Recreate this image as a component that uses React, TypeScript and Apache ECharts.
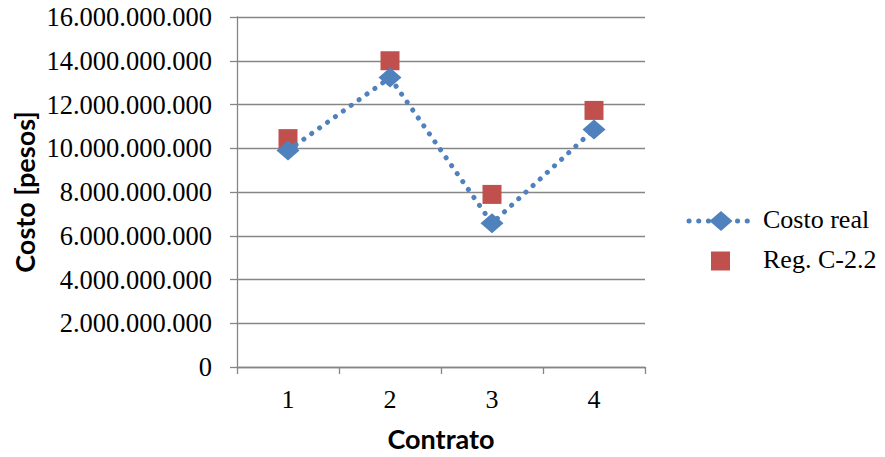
import React, { useEffect, useRef } from "react";
import * as echarts from "echarts";

const contratos = ["1", "2", "3", "4"];
const costoReal = [9.9e9, 13.23e9, 6.57e9, 10.86e9];
const regC22 = [10.44e9, 14.0e9, 7.89e9, 11.73e9];
const seriesNames = ["Costo real", "Reg. C-2.2"];
const yMax = 16e9;
const yStep = 2e9;

const axisGray = "#868686";
const blue = "#4F81BD";
const red = "#C0504D";
const serif = "'Liberation Serif', 'Times New Roman', serif";
const sans = "Lato, 'Open Sans', sans-serif";

const dotLine = { width: 5, type: [0.1, 9.6], cap: "round" as const };

const fmtPesos = (v: number) =>
  Math.round(v)
    .toString()
    .replace(/\B(?=(\d{3})+(?!\d))/g, ".");

export default function App() {
  const ref = useRef<HTMLDivElement>(null);

  useEffect(() => {
    if (!ref.current) return;
    const chart = echarts.init(ref.current, undefined, { renderer: "svg" });

    // legend on the right: dotted line with diamond, then red square
    const lx = 687;
    const row1 = 221;
    const row2 = 261;
    const legendText = (y: number, text: string) => ({
      type: "text",
      left: 763,
      top: y - 15,
      style: { text, fontFamily: serif, fontSize: 26, fill: "#000" },
    });

    chart.setOption({
      animation: false,
      backgroundColor: "#ffffff",
      grid: { left: 237, right: 240, top: 17, bottom: 90 },
      graphic: [
        {
          type: "line",
          shape: { x1: lx + 2, y1: row1, x2: lx + 66, y2: row1 },
          style: { stroke: blue, lineWidth: dotLine.width, lineDash: dotLine.type, lineCap: "round" },
        },
        {
          type: "polygon",
          shape: {
            points: [
              [lx + 34, row1 - 10],
              [lx + 45.5, row1],
              [lx + 34, row1 + 10],
              [lx + 22.5, row1],
            ],
          },
          style: { fill: blue },
        },
        legendText(row1, seriesNames[0]),
        {
          type: "rect",
          shape: { x: lx + 24, y: row2 - 9.5, width: 19, height: 19 },
          style: { fill: red },
        },
        legendText(row2, seriesNames[1]),
      ],
      xAxis: {
        type: "category",
        data: contratos,
        name: "Contrato",
        nameLocation: "middle",
        nameGap: 58,
        nameTextStyle: { fontFamily: sans, fontWeight: "bold", fontSize: 27, color: "#000" },
        axisLine: { lineStyle: { color: axisGray, width: 1.3 } },
        axisTick: { show: true, length: 7, lineStyle: { color: axisGray, width: 1.3 } },
        axisLabel: { fontFamily: serif, fontSize: 26, color: "#000", margin: 19 },
      },
      yAxis: {
        type: "value",
        min: 0,
        max: yMax,
        interval: yStep,
        name: "Costo [pesos]",
        nameLocation: "middle",
        nameGap: 199,
        nameTextStyle: { fontFamily: sans, fontWeight: "bold", fontSize: 27, color: "#000" },
        axisLine: { show: true, lineStyle: { color: axisGray, width: 1.3 } },
        axisTick: { show: true, length: 7, lineStyle: { color: axisGray, width: 1.3 } },
        splitLine: { lineStyle: { color: axisGray, width: 1.3 } },
        axisLabel: {
          fontFamily: serif,
          fontSize: 26.5,
          color: "#000",
          margin: 25,
          formatter: fmtPesos,
        },
      },
      series: [
        {
          name: seriesNames[0],
          type: "line",
          data: costoReal,
          symbol: "diamond",
          symbolSize: [23, 20],
          itemStyle: { color: blue },
          lineStyle: { color: blue, ...dotLine },
        },
        {
          name: seriesNames[1],
          type: "scatter",
          data: regC22,
          symbol: "rect",
          symbolSize: 19,
          itemStyle: { color: red, opacity: 1 },
        },
      ],
    });
    return () => chart.dispose();
  }, []);

  return (
    <div
      ref={ref}
      style={{ position: "fixed", left: 0, top: 0, width: 885, height: 457 }}
    />
  );
}
